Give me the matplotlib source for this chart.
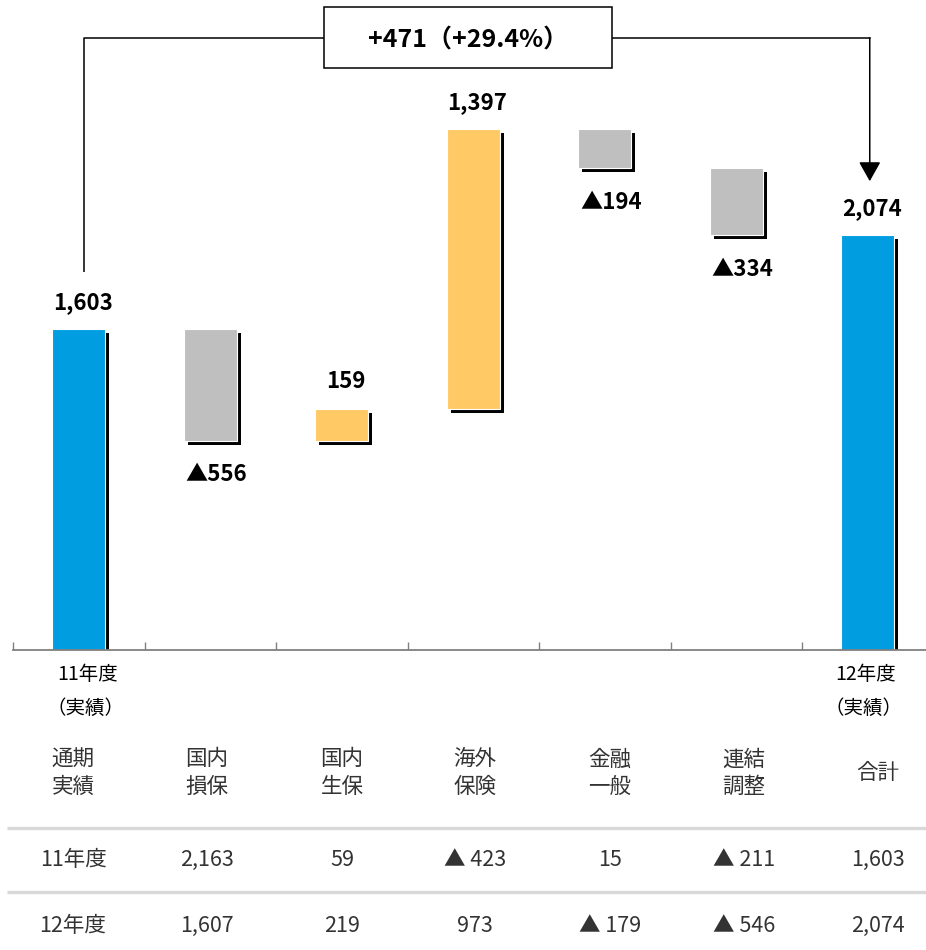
import matplotlib
matplotlib.use("Agg")
import matplotlib.pyplot as plt
import matplotlib.patheffects as pe
from matplotlib.patches import Rectangle
import numpy as np

plt.rcParams['font.family'] = ['Noto Sans CJK JP', 'DejaVu Sans']

# waterfall: FY11 result -> segment changes -> FY12 result
steps = ['11年度', '国内損保', '国内生保', '海外保険', '金融一般', '連結調整', '12年度']
values = [1603, -556, 159, 1397, -194, -334, 2074]
is_total = [True, False, False, False, False, False, True]
bar_labels = ['1,603', '▲556', '159', '1,397', '▲194', '▲334', '2,074']
sub_labels = ['（実績）', '', '', '', '', '', '（実績）']

# table under the chart
table_header = ['通期\n実績', '国内\n損保', '国内\n生保', '海外\n保険', '金融\n一般', '連結\n調整', '合計']
fy11_row = ['11年度', '2,163', '59', '▲ 423', '15', '▲ 211', '1,603']
fy12_row = ['12年度', '1,607', '219', '973', '▲ 179', '▲ 546', '2,074']

BLUE = '#009de0'
UP = '#ffca66'
DOWN = '#bfbfbf'

W, H = 926, 950
fig = plt.figure(figsize=(W / 100, H / 100), dpi=100)

# chart area: baseline 650px from top, one category = 131.5px, 1 unit = 0.2px
ax = fig.add_axes([13 / W, 300 / H, 913 / W, 650 / H])
ax.set_xlim(-0.5, -0.5 + 913 / 131.5)
ax.set_ylim(0, 3250)
for s in ['left', 'top', 'right']:
    ax.spines[s].set_visible(False)
ax.spines['bottom'].set_color('#808080')
ax.spines['bottom'].set_linewidth(1.3)
ax.set_xticks(np.arange(-0.5, len(steps) - 1, 1.0))
ax.tick_params(axis='x', direction='in', length=6, color='#808080', width=1,
               labelbottom=False)
ax.set_yticks([])

shadow = [pe.SimplePatchShadow(offset=(2.9, -2.9), shadow_rgbFace='black', alpha=1.0),
          pe.Normal()]

running = 0
tops = []
for i, v in enumerate(values):
    if is_total[i]:
        bottom, height, color = 0, v, BLUE
        running = v
        top, end = v, v
    else:
        bottom = running if v > 0 else running + v
        height = abs(v)
        color = UP if v > 0 else DOWN
        top, end = running + max(v, 0), running + v
        running += v
    ax.bar(i, height, bottom=bottom, width=0.4, color=color, edgecolor='white',
           linewidth=0.8, path_effects=shadow, zorder=2)
    tops.append(top)
    if is_total[i] or v > 0:
        ax.annotate(bar_labels[i], xy=(i, top), xytext=(4, 27),
                    textcoords='offset pixels', ha='center', va='center',
                    fontsize=16, fontweight='bold', color='black')
    else:
        ax.annotate(bar_labels[i], xy=(i, end), xytext=(6, -34),
                    textcoords='offset pixels', ha='center', va='center',
                    fontsize=16, fontweight='bold', color='black')

# category labels under the two result bars
for i in [0, len(steps) - 1]:
    dx = 9 if i == 0 else -2
    ax.annotate(steps[i], xy=(i, 0), xytext=(dx, -25), textcoords='offset pixels',
                ha='center', va='center', fontsize=14, annotation_clip=False)
    ax.annotate(sub_labels[i], xy=(i, 0), xytext=(dx - 2, -58), textcoords='offset pixels',
                ha='center', va='center', fontsize=14, annotation_clip=False)

# bracket from FY11 to FY12 with the change in a box
diff = values[-1] - values[0]
pct = diff / values[0] * 100
bracket_y = 3060
left_x = 0 + 5 / 131.5
right_x = len(steps) - 1 + 2 / 131.5
box_x0, box_x1 = 1.865, 4.055
box_y0, box_y1 = 2910, 3215

ax.plot([left_x, left_x, box_x0], [values[0] + 285, bracket_y, bracket_y],
        color='black', lw=1.1, solid_capstyle='butt', clip_on=False, zorder=3)
ax.plot([box_x1, right_x], [bracket_y, bracket_y], color='black', lw=1.1,
        clip_on=False, zorder=3)
ax.annotate('', xy=(right_x, values[-1] + 270), xytext=(right_x, bracket_y),
            arrowprops=dict(arrowstyle='-|>,head_length=0.8,head_width=0.45',
                            mutation_scale=15, color='black', lw=1.1,
                            shrinkA=0, shrinkB=0),
            annotation_clip=False)
ax.add_patch(Rectangle((box_x0, box_y0), box_x1 - box_x0, box_y1 - box_y0,
                       facecolor='white', edgecolor='black', lw=1.1, clip_on=False,
                       zorder=3))
ax.text((box_x0 + box_x1) / 2, 3045, f'+{diff}（+{pct:.1f}%）', ha='center', va='center',
        fontsize=18, fontweight='bold', zorder=4)

# table drawn in pixel coordinates
tax = fig.add_axes([0, 0, 1, 1], zorder=-1)
tax.set_xlim(0, W)
tax.set_ylim(H, 0)
tax.axis('off')

col_x = [73, 207, 342, 475, 610, 744, 878]
TXT = '#333333'
for x, lab in zip(col_x, table_header):
    tax.text(x, 773, lab, ha='center', va='center', fontsize=15.5, color=TXT,
             linespacing=1.3)
for x, lab in zip(col_x, fy11_row):
    tax.text(x, 860, lab, ha='center', va='center', fontsize=15.5, color=TXT)
for x, lab in zip(col_x, fy12_row):
    tax.text(x, 926, lab, ha='center', va='center', fontsize=15.5, color=TXT)
for y in [828, 892]:
    tax.plot([7, W], [y, y], color='#d9d9d9', lw=2.4, solid_capstyle='butt')

fig.savefig('out.png', dpi=100, facecolor='white')
